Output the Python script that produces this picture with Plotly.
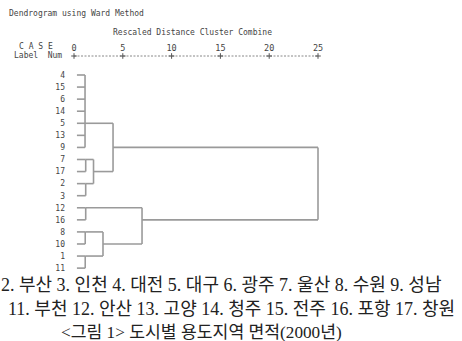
import plotly.graph_objects as go

# ---------------- data ----------------
leaf_labels = ["4", "15", "6", "14", "5", "13", "9", "7", "17", "2", "3",
               "12", "16", "8", "10", "1", "11"]
axis_ticks = [0, 5, 10, 15, 20, 25]

# cluster merges: name, children, rescaled distance, leaf whose row carries the connector
merge_names = ["A", "C1", "C2", "B", "AB", "C3", "C4", "C5", "D", "E", "ROOT"]
merge_children = [
    ["4", "15", "6", "14", "5", "13", "9"],
    ["7", "17"],
    ["2", "3"],
    ["C1", "C2"],
    ["A", "B"],
    ["12", "16"],
    ["8", "10"],
    ["1", "11"],
    ["C4", "C5"],
    ["C3", "D"],
    ["AB", "E"],
]
merge_heights = [1.13, 1.2, 1.2, 2.0, 4.0, 1.2, 1.15, 1.15, 2.97, 6.97, 25.0]
merge_connector = ["5", "7", "2", "17", "9", "12", "8", "1", "10", "16", None]

leaf_start = 0.3

caption_line1 = "2. 부산 3. 인천 4. 대전 5. 대구 6. 광주 7. 울산 8. 수원 9. 성남"
caption_line2 = "11. 부천 12. 안산 13. 고양 14. 청주 15. 전주 16. 포항 17. 창원"
caption_line3 = "<그림 1> 도시별 용도지역 면적(2000년)"

# ---------------- geometry ----------------
W, H = 462, 341
X0_PX, PX_PER_UNIT = 74.0, 9.76
ROW0_PX, PX_PER_ROW = 75.0, 12.07

row_of = {lab: i for i, lab in enumerate(leaf_labels)}
height_of = {lab: leaf_start for lab in leaf_labels}
conn_row = {lab: row_of[lab] for lab in leaf_labels}
for name, ch, h, c in zip(merge_names, merge_children, merge_heights, merge_connector):
    height_of[name] = h
    conn_row[name] = row_of[c] if c is not None else None

xs, ys = [], []
for name, ch, h in zip(merge_names, merge_children, merge_heights):
    rows = [conn_row[k] for k in ch]
    xs += [h, h, None]
    ys += [min(rows), max(rows), None]
    for k in ch:
        xs += [height_of[k], h, None]
        ys += [conn_row[k], conn_row[k], None]

LINE = "#9a9a9a"
TXT = "#444444"
MONO = "DejaVu Sans Mono, monospace"

fig = go.Figure()
fig.add_trace(go.Scatter(x=xs, y=ys, mode="lines",
                         line=dict(color=LINE, width=1.6),
                         hoverinfo="skip", showlegend=False))

# dashed ASCII-style axis line with '+' at ticks
axis_row = (56 - ROW0_PX) / PX_PER_ROW
fig.add_trace(go.Scatter(x=[axis_ticks[0], axis_ticks[-1]], y=[axis_row, axis_row],
                         mode="lines", line=dict(color="#888888", width=1, dash="2px,1.5px"),
                         hoverinfo="skip", showlegend=False))
fig.add_trace(go.Scatter(x=axis_ticks, y=[axis_row] * len(axis_ticks), mode="markers",
                         marker=dict(symbol="cross-thin", size=4,
                                     line=dict(color="#555555", width=1)),
                         hoverinfo="skip", showlegend=False))

xr = [-X0_PX / PX_PER_UNIT, (W - X0_PX) / PX_PER_UNIT]
yr = [(H - ROW0_PX) / PX_PER_ROW, -ROW0_PX / PX_PER_ROW]

fig.update_layout(
    width=W, height=H,
    margin=dict(l=0, r=0, t=0, b=0),
    paper_bgcolor="white", plot_bgcolor="white",
    hovermode=False,
    xaxis=dict(range=xr, domain=[0, 1], side="top", anchor="free",
               position=1 - 52.5 / H, fixedrange=True,
               tickvals=axis_ticks, ticktext=[str(t) for t in axis_ticks],
               ticks="", showgrid=False, zeroline=False, showline=False,
               tickfont=dict(family=MONO, size=8.5, color=TXT)),
    yaxis=dict(range=yr, domain=[0, 1], anchor="free", position=65 / W, fixedrange=True,
               tickvals=list(range(len(leaf_labels))), ticktext=leaf_labels,
               ticks="", showgrid=False, zeroline=False, showline=False,
               tickfont=dict(family=MONO, size=8, color=TXT)),
)

def ann(text, px, py, size, family, color, xanchor="left"):
    fig.add_annotation(text=text, x=px / W, y=1 - py / H, xref="paper", yref="paper",
                       xanchor=xanchor, yanchor="middle", showarrow=False,
                       font=dict(family=family, size=size, color=color))

ann("Dendrogram using Ward Method", 7, 14, 8, MONO, TXT)
ann("Rescaled Distance Cluster Combine", 111, 32, 8, MONO, TXT)
ann("C A S E", 17, 47, 8, MONO, TXT)
ann("Label  Num", 12, 56, 8, MONO, TXT)

SERIF = "Liberation Serif, Noto Sans CJK KR, serif"
ann(caption_line1, -1, 285, 18, SERIF, "#222222")
ann(caption_line2, 6, 309, 18, SERIF, "#222222")
ann(caption_line3, 59, 332, 17.2, SERIF, "#222222")

fig.write_html("out.html",
               config={"displayModeBar": False, "staticPlot": True},
               post_script="document.body.style.margin='0px';document.body.style.overflow='hidden';")
